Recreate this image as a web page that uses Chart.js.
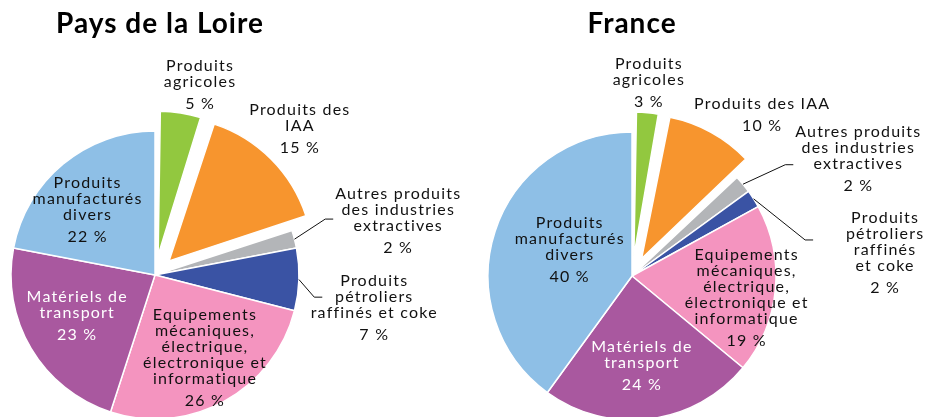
<!DOCTYPE html>
<html>
<head>
<meta charset="utf-8">
<script src="https://cdn.jsdelivr.net/npm/chart.js@4/dist/chart.umd.min.js"></script>
<style>
  body { margin: 0; background: #fff; width: 939px; height: 417px; position: relative; overflow: hidden; }
  canvas { position: absolute; top: 0; }
</style>
</head>
<body>
<canvas id="loireChart" width="470" height="417" style="left:0"></canvas>
<canvas id="franceChart" width="470" height="417" style="left:469px"></canvas>
<script>
// Categories, in the order they run clockwise from 12 o'clock
const categories = [
  "Produits agricoles",
  "Produits des IAA",
  "Autres produits des industries extractives",
  "Produits pétroliers raffinés et coke",
  "Equipements mécaniques, électrique, électronique et informatique",
  "Matériels de transport",
  "Produits manufacturés divers",
];

// Shares in %
const loireShares = [5, 15, 2, 7, 26, 23, 22];
const franceShares = [3, 10, 2, 2, 19, 24, 40];

// How each label is broken into lines
const loireLines = [
  ["Produits", "agricoles"],
  ["Produits des", "IAA"],
  ["Autres produits", "des industries", "extractives"],
  ["Produits", "pétroliers", "raffinés et coke"],
  ["Equipements", "mécaniques,", "électrique,", "électronique et", "informatique"],
  ["Matériels de", "transport"],
  ["Produits", "manufacturés", "divers"],
];
const franceLines = [
  ["Produits", "agricoles"],
  ["Produits des IAA"],
  ["Autres produits", "des industries", "extractives"],
  ["Produits", "pétroliers", "raffinés", "et coke"],
  ["Equipements", "mécaniques,", "électrique,", "électronique et", "informatique"],
  ["Matériels de", "transport"],
  ["Produits", "manufacturés", "divers"],
];

const colors = ["#92c83f", "#f7952e", "#b3b5b8", "#3a53a4", "#f494bf", "#a9589f", "#8ebfe6"];
const textColors = ["#111", "#111", "#111", "#111", "#111", "#fff", "#111"];
const RADIUS = 144;

// label placement: turn (deg) from the slice's mid angle, distance in radii,
// optional leader line end relative to the label centre
const loirePlaces = [
  { turn: 4.3, dist: 1.36 },
  { turn: -0.3, dist: 1.43 },
  { turn: 1.9, dist: 1.73, leader: [-65, -2] },
  { turn: 6.8, dist: 1.54, leader: [-52, -11] },
  { turn: -2.4, dist: 0.67 },
  { turn: 2.9, dist: 0.61 },
  { turn: -6.5, dist: 0.65 },
];
const francePlaces = [
  { turn: -0.4, dist: 1.345 },
  { turn: 10.1, dist: 1.44 },
  { turn: 12.2, dist: 1.77, leader: [-65, 6] },
  { turn: 27.2, dist: 1.765, leader: [-72, -13] },
  { turn: 5.2, dist: 0.81 },
  { turn: 0.9, dist: 0.63 },
  { turn: 5.1, dist: 0.47 },
];

const LABEL_FONT = "16px Lato";
const LINE_H = 16;
const PCT_GAP = 22;

// keep exploded slices at the same radius as the others
const keepRadius = {
  id: "keepRadius",
  afterDatasetUpdate(chart, args) {
    const baseR = args.meta.controller.outerRadius;
    args.meta.data.forEach((arc) => {
      const off = (arc.options.offset || 0) / 4;
      const fix = 1 - Math.sin(Math.min(Math.PI, arc.circumference || 0));
      arc.outerRadius = baseR - off * fix;
    });
  },
};

const sliceLabels = {
  id: "sliceLabels",
  afterDatasetsDraw(chart, args, opts) {
    const ctx = chart.ctx;
    const meta = chart.getDatasetMeta(0);
    const values = chart.data.datasets[0].data;
    const offsets = chart.data.datasets[0].offset;
    const area = chart.chartArea;
    const cx = area.left + area.width / 2;
    const cy = area.top + area.height / 2;
    const R = meta.controller.outerRadius;
    ctx.save();
    ctx.font = LABEL_FONT;
    if ("letterSpacing" in ctx) ctx.letterSpacing = "1.2px";
    ctx.textAlign = "center";
    ctx.textBaseline = "middle";
    meta.data.forEach((arc, i) => {
      const mid = (arc.startAngle + arc.endAngle) / 2;
      const place = opts.places[i];
      const a = mid + (place.turn * Math.PI) / 180;
      const lx = cx + Math.cos(a) * R * place.dist;
      const ly = cy + Math.sin(a) * R * place.dist;
      const lines = opts.lines[i];
      const blockH = (lines.length - 1) * LINE_H + PCT_GAP;
      let y = ly - blockH / 2;
      ctx.fillStyle = textColors[i];
      lines.forEach((t) => {
        ctx.fillText(t, lx, y);
        y += LINE_H;
      });
      ctx.fillText(values[i] + " %", lx, y - LINE_H + PCT_GAP);

      if (place.leader) {
        const rr = R + (offsets[i] || 0) / 4;
        const sx = cx + Math.cos(mid) * rr;
        const sy = cy + Math.sin(mid) * rr;
        const ex = lx + place.leader[0];
        const ey = ly + place.leader[1];
        ctx.strokeStyle = "#111";
        ctx.lineWidth = 1;
        ctx.beginPath();
        ctx.moveTo(sx, sy);
        ctx.lineTo(ex - 8, ey);
        ctx.lineTo(ex, ey);
        ctx.stroke();
      }
    });
    // title
    ctx.font = "bold 28px Lato";
    if ("letterSpacing" in ctx) ctx.letterSpacing = "1px";
    ctx.fillStyle = "#000";
    ctx.textBaseline = "alphabetic";
    ctx.fillText(opts.title, cx + opts.titleShift, 33);
    ctx.restore();
  },
};

function makePie(canvasId, shares, offsets, padding, lines, places, title, titleShift) {
  return new Chart(document.getElementById(canvasId), {
    type: "pie",
    data: {
      labels: categories,
      datasets: [
        {
          data: shares,
          backgroundColor: colors,
          borderColor: "#fff",
          borderWidth: 1.5,
          offset: offsets,
          radius: RADIUS,
          clip: false,
        },
      ],
    },
    options: {
      responsive: false,
      animation: false,
      events: [],
      layout: { padding: padding },
      plugins: {
        legend: { display: false },
        tooltip: { enabled: false },
        sliceLabels: { lines: lines, places: places, title: title, titleShift: titleShift },
      },
    },
    plugins: [keepRadius, sliceLabels],
  });
}

makePie("loireChart", loireShares, [80, 80, 0, 0, 0, 0, 0],
  { left: 0, right: 160, top: 133, bottom: 0 }, loireLines, loirePlaces, "Pays de la Loire", 5);
makePie("franceChart", franceShares, [80, 80, 0, 0, 0, 0, 0],
  { left: 0, right: 144, top: 135, bottom: 0 }, franceLines, francePlaces, "France", 0);
</script>
</body>
</html>
